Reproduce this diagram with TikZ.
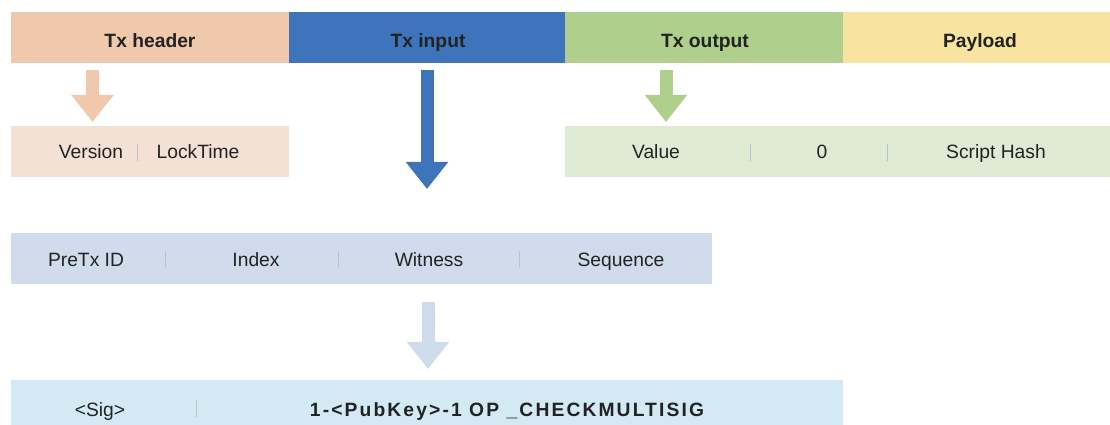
\documentclass[tikz,border=0pt]{standalone}
\usepackage{fontspec}
\setmainfont{Liberation Sans}
\usepackage{xcolor}
\usepackage{tikz}
\usetikzlibrary{arrows.meta, positioning, calc}
\definecolor{hdrpeach}{HTML}{F0C9AD}
\definecolor{inpblue}{HTML}{3E74BB}
\definecolor{outgreen}{HTML}{AFCF8D}
\definecolor{payyellow}{HTML}{F8E4A0}
\definecolor{hdrlight}{HTML}{F4E1D6}
\definecolor{inplight}{HTML}{D0DBEC}
\definecolor{outlight}{HTML}{DFEAD5}
\definecolor{siglight}{HTML}{D3EAF4}
\definecolor{septone}{HTML}{B9C3CC}
\definecolor{inktone}{HTML}{222222}
\tikzstyle{segment} = [rectangle, minimum height=1.275cm, inner sep=0pt]
\tikzstyle{fieldrow} = [rectangle, minimum height=1.275cm, inner sep=0pt]
\tikzstyle{label} = [anchor=base, inner sep=0pt, font=\fontsize{13.7}{16}\selectfont\bfseries, text=inktone]
\tikzstyle{field} = [anchor=base, inner sep=0pt, font=\fontsize{13.7}{16}\selectfont, text=inktone]
\tikzstyle{sep} = [septone, line width=0.6pt]
\tikzstyle{fatarrow} = [line width=0.325cm, -{Triangle[width=1.025cm, length=0.68cm]}]

\begin{document}
\begin{tikzpicture}[x=0.025cm, y=-0.025cm]
\useasboundingbox (0,0) rectangle (1110,425);

% top bar
\node (hdr) [segment, fill=hdrpeach, minimum width=6.95cm] at (150,37.5) {};
\node (inp) [segment, fill=inpblue, minimum width=6.9cm] at (427,37.5) {};
\node (outp) [segment, fill=outgreen, minimum width=6.95cm] at (704,37.5) {};
\node (pay) [segment, fill=payyellow, minimum width=6.675cm] at (976.5,37.5) {};
\node (hdrtext) [label] at (150,47.5) {Tx header};
\node (inptext) [label] at (428,47.5) {Tx input};
\node (outtext) [label] at (705,47.5) {Tx output};
\node (paytext) [label] at (980,47.5) {Payload};

% field rows
\node (hdrrow) [fieldrow, fill=hdrlight, minimum width=6.95cm] at (150,151.5) {};
\node (outrow) [fieldrow, fill=outlight, minimum width=13.625cm] at (837.5,151.5) {};
\node (inprow) [fieldrow, fill=inplight, minimum width=17.525cm] at (361.5,258.5) {};
\node (sigrow) [fieldrow, fill=siglight, minimum width=20.8cm] at (427,405.5) {};

\node (version) [field] at (91,159) {Version};
\node (locktime) [field] at (198,159) {LockTime};
\draw [sep] (137,144) -- (137,161);

\node (value) [field] at (656,159) {Value};
\node (zero) [field] at (822,159) {0};
\node (scripthash) [field] at (996,159) {Script Hash};
\draw [sep] (750,144) -- (750,161);
\draw [sep] (887,144) -- (887,161);

\node (pretx) [field] at (86,266.5) {PreTx ID};
\node (index) [field] at (256,266.5) {Index};
\node (witness) [field] at (429,266.5) {Witness};
\node (sequence) [field] at (621,266.5) {Sequence};
\draw [sep] (165,251) -- (165,268);
\draw [sep] (338,251) -- (338,268);
\draw [sep] (519,251) -- (519,268);

\node (sig) [field] at (100,416) {<Sig>};
\node (multisig) [label, font=\fontsize{13.7}{16}\selectfont\bfseries\addfontfeatures{LetterSpace=11}] at (507,416) {1-<PubKey>-1 OP \_CHECKMULTISIG};
\draw [sep] (196,400) -- (196,417);

% arrows
\coordinate (hdrfrom) at (92.5,70);
\coordinate (hdrto) at (92.5,122);
\coordinate (inpfrom) at (427,70);
\coordinate (inpto) at (427,189);
\coordinate (outfrom) at (666,70);
\coordinate (outto) at (666,122);
\coordinate (witfrom) at (428,302);
\coordinate (witto) at (428,369);

\draw [fatarrow, hdrpeach] (hdrfrom) -- (hdrto);
\draw [fatarrow, inpblue] (inpfrom) -- (inpto);
\draw [fatarrow, outgreen] (outfrom) -- (outto);
\draw [fatarrow, inplight] (witfrom) -- (witto);

\end{tikzpicture}
\end{document}
